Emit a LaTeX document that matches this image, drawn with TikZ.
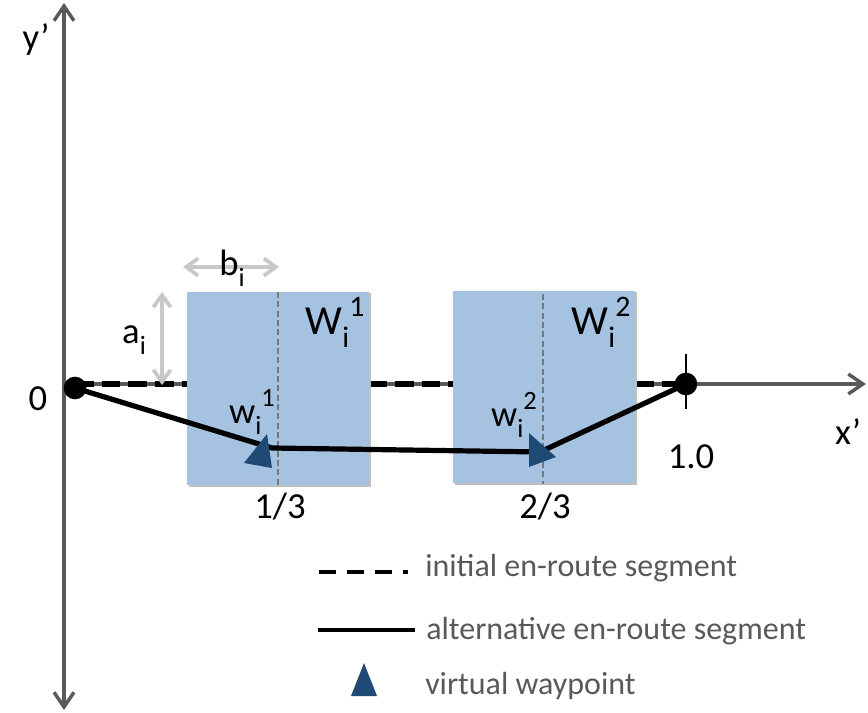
\documentclass[tikz,border=0pt]{standalone}
\usepackage{fontspec}
\setmainfont{Carlito}
\usetikzlibrary{arrows.meta}
\definecolor{boxblue}{RGB}{165,194,224}
\definecolor{tri}{RGB}{31,74,117}
\definecolor{axisgray}{RGB}{89,89,89}
\definecolor{lightarr}{RGB}{200,200,200}
\definecolor{legtext}{RGB}{89,89,89}
\definecolor{midgray}{RGB}{120,120,120}
\newcommand{\subsup}[3]{#1\raisebox{-0.3em}{\scalebox{0.72}{#2}}\raisebox{0.45em}{\scalebox{0.72}{#3}}}
\tikzset{
  axtip/.tip={Straight Barb[length=11pt,width=15pt,line width=2.6pt]},
  dimtip/.tip={Straight Barb[length=9pt,width=13pt,line width=2.8pt]},
  axisline/.style={draw=axisgray,line width=2.7pt,-axtip},
  dimarrow/.style={draw=lightarr,line width=2.8pt,dimtip-dimtip},
  initseg/.style={draw=black,line width=3.8pt,dash pattern=on 14pt off 6pt},
  altseg/.style={draw=black,line width=3.9pt},
  zonebox/.style={fill=boxblue,draw=none},
  zoneshadow/.style={fill=black!25,draw=none},
  midline/.style={draw=midgray,line width=2.2pt,dash pattern=on 4.5pt off 2.5pt},
  endpt/.style={circle,fill=black,inner sep=0pt,minimum size=17pt},
  lbl/.style={font=\fontsize{27.5}{32}\selectfont,text=black,inner sep=0pt},
  biglbl/.style={font=\fontsize{31}{36}\selectfont,text=black,inner sep=0pt},
  leg/.style={font=\fontsize{24}{28}\selectfont,text=legtext,inner sep=0pt,anchor=west},
}
\begin{document}
\begin{tikzpicture}[x=0.75pt,y=-0.75pt]
\useasboundingbox (0,0) rectangle (868,713);
% axes
\coordinate (ybot) at (64,710);
\coordinate (ytop) at (64,3);
\coordinate (orig) at (64,384);
\coordinate (xend) at (866,384);
\draw[axisline,axtip-axtip] (ybot) -- (ytop);
\draw[axisline] (orig) -- (xend);
% end points
\node[endpt] (p0) at (75,388) {};
\node[endpt] (p1) at (686,384) {};
% initial segment
\coordinate (d0) at (75,384);
\draw[initseg] (d0) -- (p1.center);
% boxes
\fill[zoneshadow] (189,293) rectangle (371,487);
\node[zonebox,minimum width=136.5pt,minimum height=144.75pt,inner sep=0pt,anchor=north west] (W1) at (187,292) {};
\fill[zoneshadow] (455,292) rectangle (637,485);
\node[zonebox,minimum width=136.5pt,minimum height=144pt,inner sep=0pt,anchor=north west] (W2) at (453,291) {};
\coordinate (m1t) at (278,292);
\coordinate (m1b) at (278,487);
\coordinate (m2t) at (543,294);
\coordinate (m2b) at (543,484);
\draw[midline] (m1t) -- (m1b);
\draw[midline] (m2t) -- (m2b);
% alternative segment
\coordinate (w1) at (272,448);
\coordinate (w2) at (540,452);
\draw[altseg] (p0.center) -- (w1) -- (w2) -- (p1.center);
% virtual waypoints
\fill[tri] (267,434) -- (244,463) -- (272,468) -- cycle;
\fill[tri] (529,433) -- (556,457) -- (529,467) -- cycle;
% tick at 1.0
\coordinate (tk1) at (686,354);
\coordinate (tk2) at (686,409);
\draw[black,line width=1.8pt] (tk1) -- (tk2);
% dimension arrows
\coordinate (b1) at (183,267);
\coordinate (b2) at (279,267);
\draw[dimarrow] (b1) -- (b2);
\coordinate (a1) at (162,292);
\coordinate (a2) at (162,385);
\draw[dimarrow] (a1) -- (a2);
% labels
\node[lbl] (ylab) at (36,40) {y’};
\node[lbl] (xlab) at (848,432) {x’};
\node[lbl] (zero) at (38,399) {0};
\node[lbl] (one) at (691,457) {1.0};
\node[lbl] (third) at (280,507) {1/3};
\node[lbl] (twothird) at (545,507) {2/3};
\node[lbl] (alab) at (134,340) {\subsup{a}{i}{}};
\node[lbl] (blab) at (232,268) {\subsup{b}{i}{}};
\node[biglbl] (W1lab) at (335,322) {\subsup{W}{i}{1}};
\node[biglbl] (W2lab) at (601,322) {\subsup{W}{i}{2}};
\node[lbl] (w1lab) at (252,412) {\subsup{w}{i}{1}};
\node[lbl] (w2lab) at (514,415) {\subsup{w}{i}{2}};
% legend
\coordinate (l1a) at (319,572);
\coordinate (l1b) at (408,572);
\draw[black,line width=3.2pt,dash pattern=on 13pt off 8pt] (l1a) -- (l1b);
\node[leg] (leg1) at (425,568) {initial en-route segment};
\coordinate (l2a) at (318,630);
\coordinate (l2b) at (415,630);
\draw[black,line width=3.2pt] (l2a) -- (l2b);
\node[leg] (leg2) at (426,631) {alternative en-route segment};
\fill[tri] (364,663) -- (351,696) -- (377,696) -- cycle;
\node[leg] (leg3) at (425,686) {virtual waypoint};
\end{tikzpicture}
\end{document}
